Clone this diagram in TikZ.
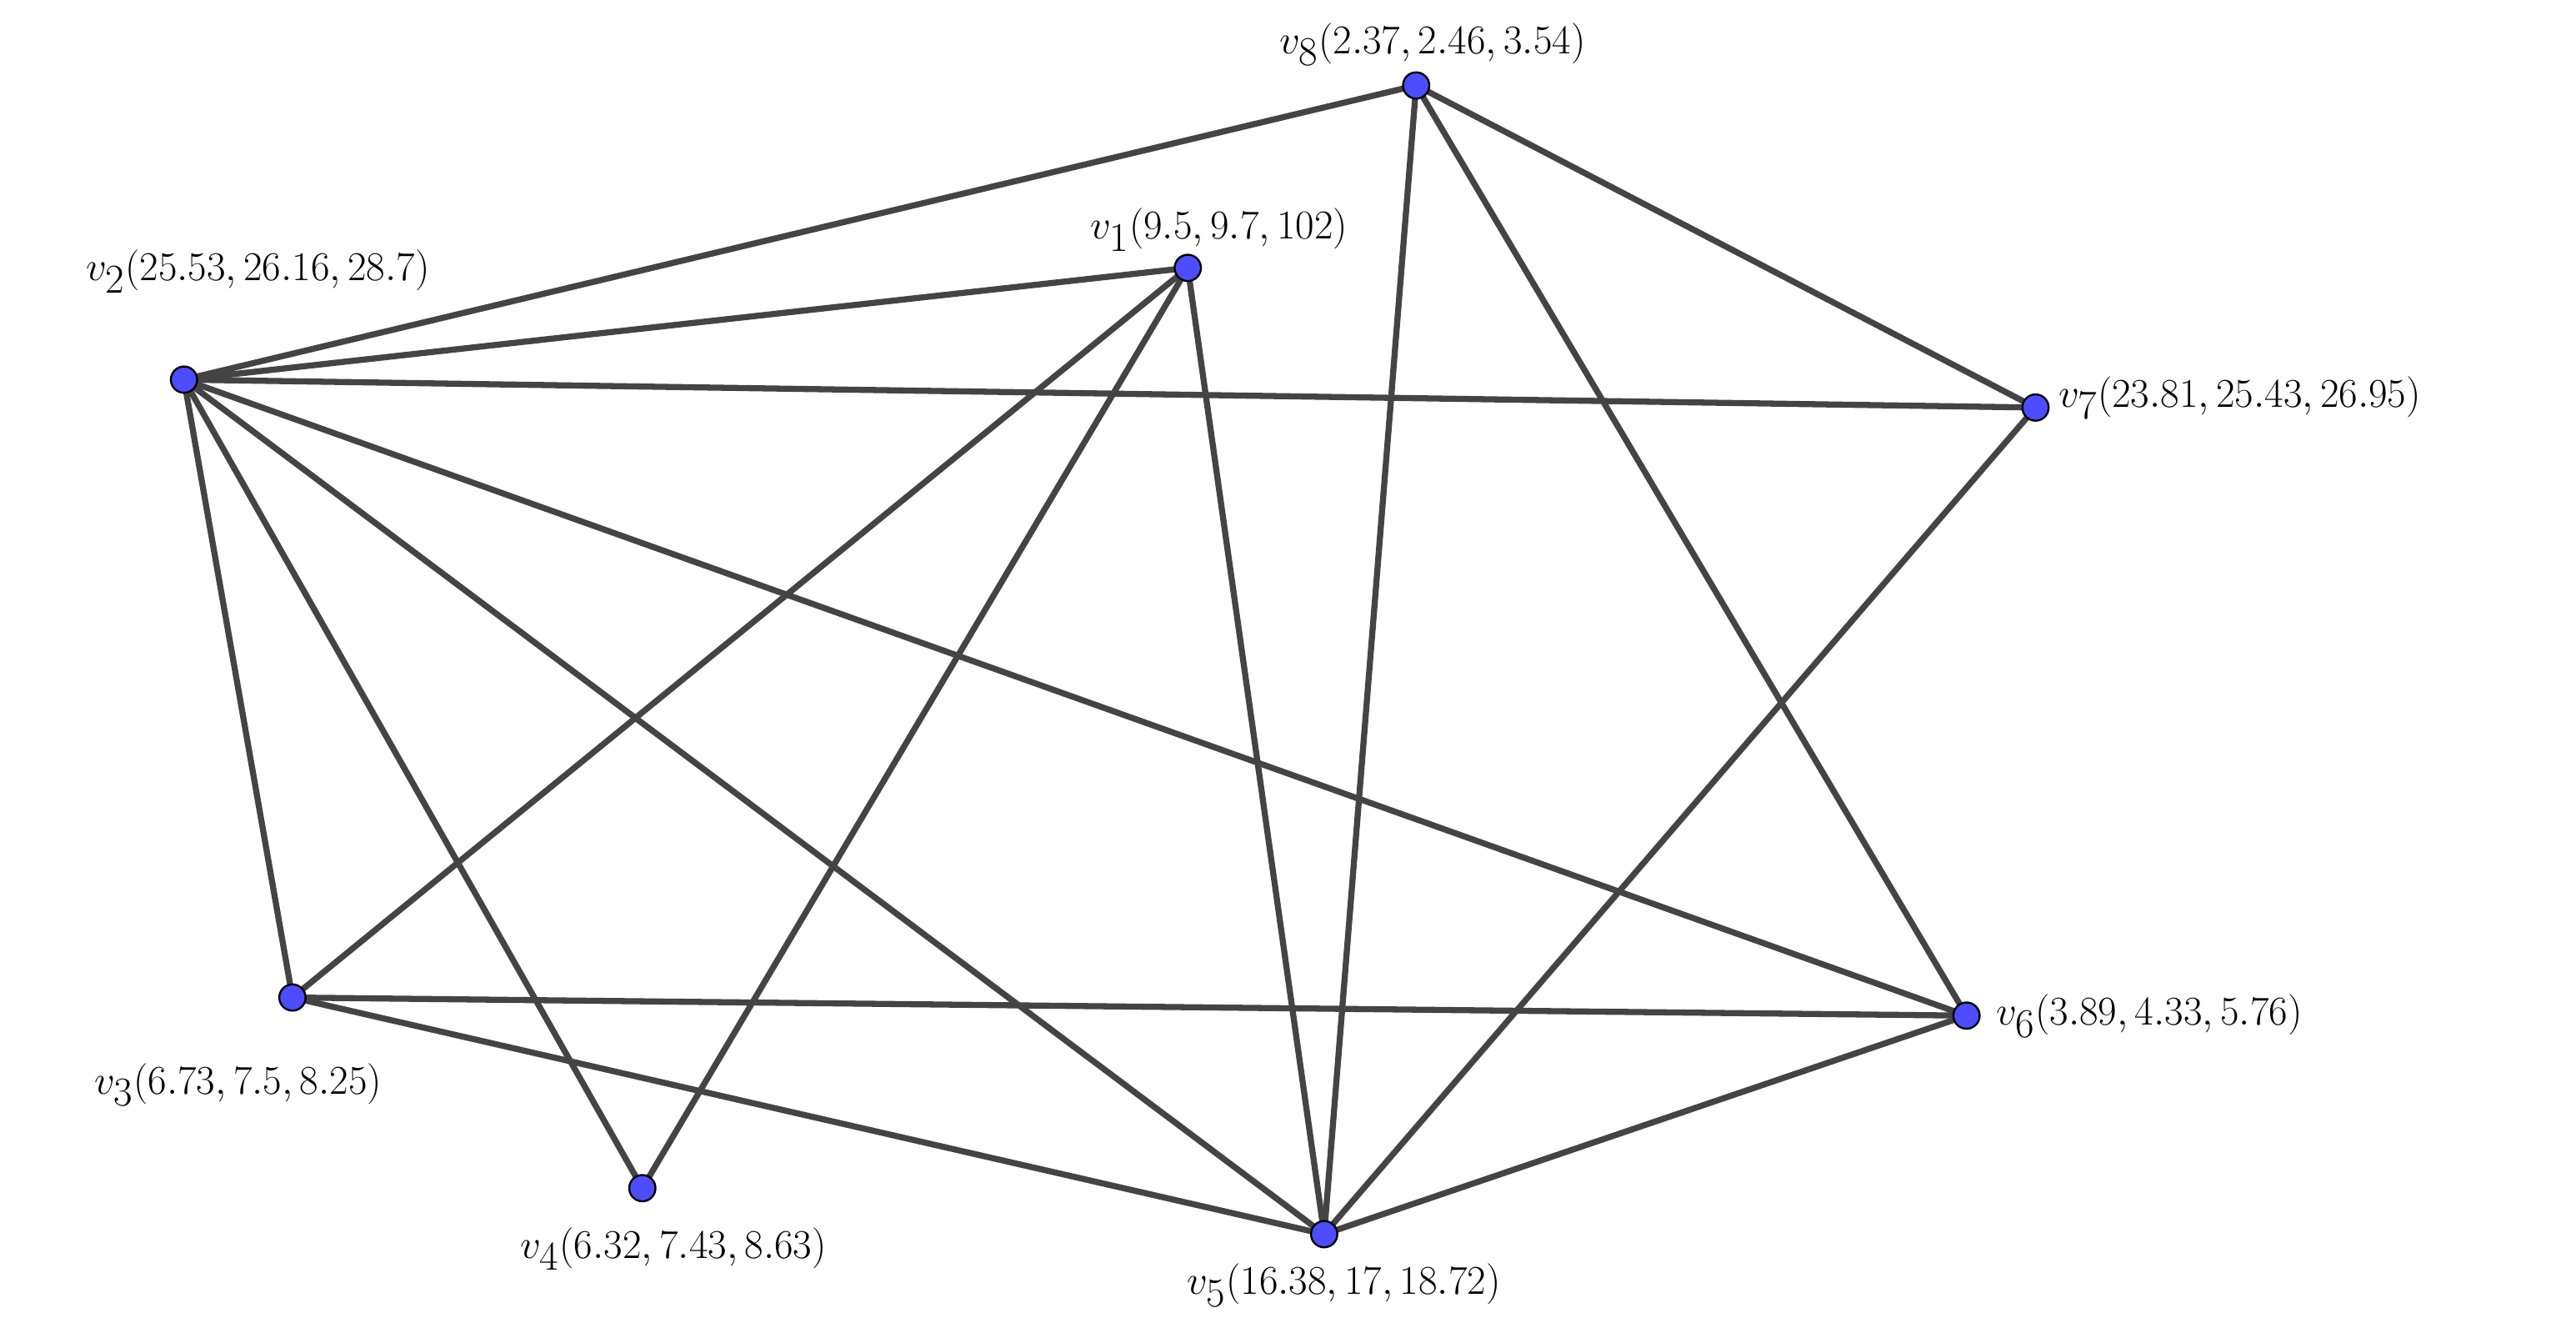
\documentclass[tikz,border=0pt]{standalone}
\usepackage{amsmath}
\begin{document}
\begin{tikzpicture}[x=1pt,y=-1pt,
  vtx/.style={circle,draw=black,line width=1.2pt,fill={rgb,255:red,77;green,77;blue,255},inner sep=0pt,minimum size=16pt},
  edge/.style={draw={rgb,255:red,68;green,68;blue,68},line width=3.7pt},
  lab/.style={font=\fontsize{35}{40}\selectfont,inner sep=0pt}]
\useasboundingbox (0,0) rectangle (1568,811);
\coordinate (p1) at (723,163);
\coordinate (p2) at (112,231);
\coordinate (p3) at (178,607);
\coordinate (p4) at (391,723);
\coordinate (p5) at (806,751);
\coordinate (p6) at (1197,618);
\coordinate (p7) at (1239,248);
\coordinate (p8) at (862,52);
\foreach \a/\b in {2/8,2/1,2/7,2/3,2/4,2/5,2/6,1/3,1/4,1/5,8/5,8/6,8/7,7/5,3/6,3/5,5/6}
  \draw[edge] (p\a) -- (p\b);
\foreach \i in {1,...,8} \node[vtx] (v\i) at (p\i) {};
\node[lab] (l8) at (872,27) {$v_8(2.37,2.46,3.54)$};
\node[lab] (l1) at (742,140) {$v_1(9.5,9.7,102)$};
\node[lab] (l2) at (157,165) {$v_2(25.53,26.16,28.7)$};
\node[lab,anchor=west] (l7) at (1253,242) {$v_7(23.81,25.43,26.95)$};
\node[lab,anchor=west] (l6) at (1215,618) {$v_6(3.89,4.33,5.76)$};
\node[lab] (l5) at (818,782) {$v_5(16.38,17,18.72)$};
\node[lab] (l4) at (410,760) {$v_4(6.32,7.43,8.63)$};
\node[lab] (l3) at (145,660) {$v_3(6.73,7.5,8.25)$};
\end{tikzpicture}
\end{document}
